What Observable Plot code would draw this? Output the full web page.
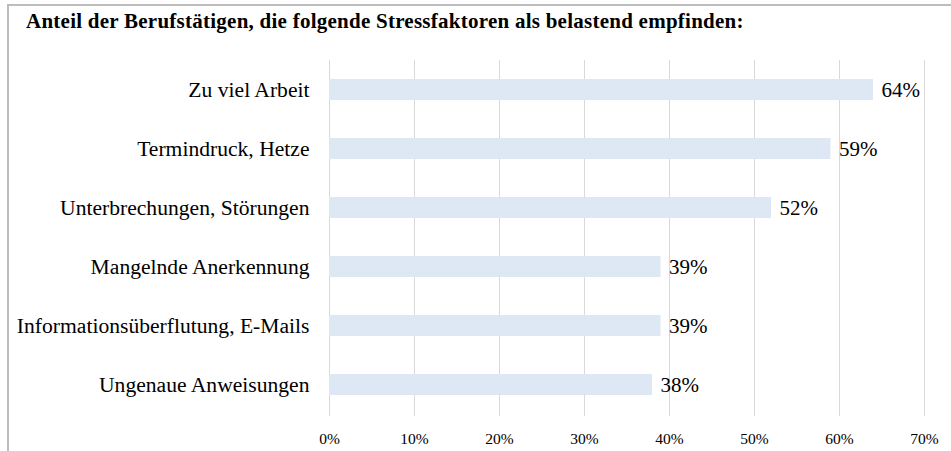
<!DOCTYPE html>
<html>
<head>
<meta charset="utf-8">
<script src="https://cdn.jsdelivr.net/npm/d3@7"></script>
<script src="https://cdn.jsdelivr.net/npm/@observablehq/plot@0.6"></script>
<style>
  body { margin: 0; background: #fff; }
  #wrap { position: relative; width: 951px; height: 451px; overflow: hidden; background: #fff; }
  #frame { position: absolute; left: 7px; top: 4px; right: -10px; bottom: -10px;
           border-left: 2px solid #bdbdbd; border-top: 2px solid #bdbdbd; pointer-events: none; }
  #title { position: relative; height: 29px; padding-top: 11px; padding-left: 26px;
           font-weight: bold; font-size: 21px; line-height: 21px; letter-spacing: 0.25px; color: #000; white-space: nowrap;
           font-family: "Liberation Serif", Tinos, "Times New Roman", Times, serif; }
  #chart svg { display: block; }
</style>
</head>
<body>
<div id="wrap">
  <div id="frame"></div>
  <div id="title">Anteil der Berufstätigen, die folgende Stressfaktoren als belastend empfinden:</div>
  <div id="chart"></div>
</div>
<script>
const categories = [
  "Zu viel Arbeit",
  "Termindruck, Hetze",
  "Unterbrechungen, Störungen",
  "Mangelnde Anerkennung",
  "Informationsüberflutung, E-Mails",
  "Ungenaue Anweisungen"
];
const values = [0.64, 0.59, 0.52, 0.39, 0.39, 0.38];
const tickValues = [0, 0.1, 0.2, 0.3, 0.4, 0.5, 0.6, 0.7];
const tickLabels = ["0%", "10%", "20%", "30%", "40%", "50%", "60%", "70%"];

const data = categories.map((c, i) => ({cat: c, value: values[i]}));
const pct = v => Math.round(v * 100) + "%";
const tickFmt = v => tickLabels[tickValues.findIndex(t => Math.abs(t - v) < 1e-9)];
const serif = '"Liberation Serif", Tinos, "Times New Roman", Times, serif';

const chart = Plot.plot({
  width: 951,
  height: 411,
  marginLeft: 329,
  marginRight: 27,
  marginTop: 20,
  marginBottom: 35,
  style: {fontFamily: serif, color: "#000", background: "transparent"},
  x: {domain: [0, 0.7]},
  y: {domain: categories, paddingInner: 0.646, paddingOuter: 0.323, align: 0.47},
  marks: [
    Plot.ruleX(tickValues, {stroke: "#d9d9d9", strokeWidth: 1}),
    Plot.barX(data, {x: "value", y: "cat", fill: "#dde8f4"}),
    Plot.text(data, {x: "value", y: "cat", text: d => pct(d.value), textAnchor: "start", dx: 8, fontSize: 21, fill: "#000"}),
    Plot.axisY({tickSize: 0, tickPadding: 20, fontSize: 21.6, label: null}),
    Plot.axisX({ticks: tickValues, tickFormat: tickFmt, tickSize: 0, tickPadding: 16, fontSize: 15.5, label: null})
  ]
});
document.getElementById("chart").appendChild(chart);
</script>
</body>
</html>
